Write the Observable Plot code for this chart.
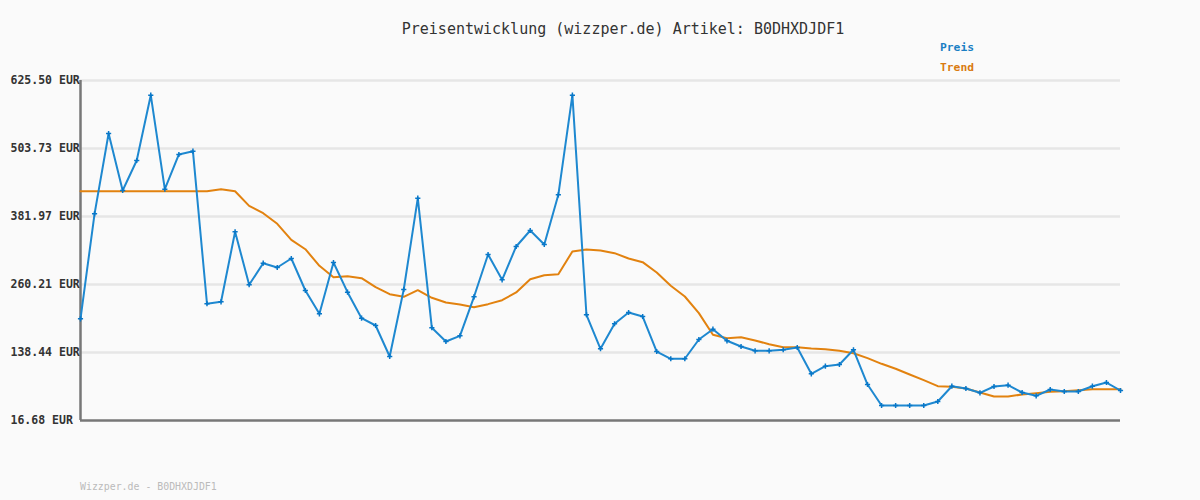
<!DOCTYPE html>
<html>
<head>
<meta charset="utf-8">
<script src="https://cdn.jsdelivr.net/npm/d3@7"></script>
<script src="https://cdn.jsdelivr.net/npm/@observablehq/plot@0.6"></script>
<style>
  html, body { margin: 0; padding: 0; background: #fafafa; }
  #wrap { position: relative; width: 1200px; height: 500px; background: #fafafa; font-family: "DejaVu Sans Mono", monospace; }
  #title { position: absolute; top: 20px; left: 0; width: 1246px; text-align: center; font-size: 15px; color: #333; }
  .leg { position: absolute; left: 940px; font-size: 11.3px; font-weight: bold; }
  #footer { position: absolute; left: 80px; top: 481px; font-size: 9.9px; color: #bbb; }
  #chart { position: absolute; left: 0; top: 0; }
</style>
</head>
<body>
<div id="wrap">
  <div id="chart"></div>
  <div id="title">Preisentwicklung (wizzper.de) Artikel: B0DHXDJDF1</div>
  <div class="leg" style="top:41px;color:#1a7fc4">Preis</div>
  <div class="leg" style="top:61px;color:#d97a10">Trend</div>
  <div id="footer">Wizzper.de - B0DHXDJDF1</div>
</div>
<script>
const preis = [198.8, 386.8, 530.6, 428.5, 482.2, 599.2, 430.9, 493.0, 498.9, 225.7,
  229.2, 354.6, 259.7, 298.4, 290.7, 306.8, 249.5, 207.7, 299.6, 246.5,
  199.9, 186.8, 131.3, 251.3, 414.8, 182.7, 158.2, 168.3, 238.2, 313.9,
  268.6, 328.3, 356.9, 331.8, 420.8, 599.2, 206.0, 145.1, 189.9, 210.1,
  202.9, 140.2, 127.2, 127.2, 161.7, 180.2, 159.4, 149.2, 141.5, 141.5,
  143.3, 147.4, 100.3, 114.0, 117.0, 143.3, 81.1, 43.5, 43.5, 43.5,
  43.5, 50.7, 78.1, 74.0, 66.3, 77.6, 79.9, 66.8, 60.9, 72.2,
  68.6, 68.6, 78.1, 84.7, 70.4];
const trend = [427.3, 427.3, 427.3, 427.3, 427.3, 427.3, 427.3, 427.3, 427.3, 427.3,
  430.9, 427.3, 401.1, 387.9, 368.9, 340.2, 323.4, 293.7, 273.3, 275.1,
  271.5, 255.4, 242.9, 238.2, 250.0, 236.4, 228.0, 224.4, 219.6, 225.0,
  232.1, 245.9, 269.7, 276.9, 278.6, 319.3, 322.9, 321.1, 316.3, 306.8,
  300.2, 281.7, 257.9, 238.7, 208.9, 170.2, 164.1, 165.9, 159.9, 153.3,
  148.0, 148.0, 145.6, 144.4, 141.5, 137.2, 128.3, 118.2, 109.3, 99.1,
  88.9, 78.1, 77.0, 74.0, 66.8, 59.7, 59.7, 63.2, 65.6, 68.0,
  69.2, 70.9, 72.7, 72.7, 72.7];
const yTicks = [16.68, 138.44, 260.21, 381.97, 503.73, 625.50];
const yTickLabels = ["16.68 EUR", "138.44 EUR", "260.21 EUR", "381.97 EUR", "503.73 EUR", "625.50 EUR"];

const pts = preis.map((v, i) => ({i, v}));
const trs = trend.map((v, i) => ({i, v}));
const ticks = yTicks.map((v, k) => ({v, label: yTickLabels[k]}));

const chart = Plot.plot({
  width: 1200,
  height: 500,
  marginLeft: 80,
  marginRight: 80,
  marginTop: 80,
  marginBottom: 80,
  style: {background: "transparent", fontFamily: "DejaVu Sans Mono, monospace"},
  x: {domain: [0, preis.length - 1], axis: null},
  y: {domain: [yTicks[0], yTicks[yTicks.length - 1]], axis: null},
  marks: [
    Plot.ruleY(yTicks.slice(1), {stroke: "#e6e6e6", strokeWidth: 2.5}),
    Plot.ruleX([0], {stroke: "#777", strokeWidth: 2.5}),
    Plot.ruleY([yTicks[0]], {stroke: "#777", strokeWidth: 2.5}),
    Plot.text(ticks, {y: "v", text: "label", frameAnchor: "left", textAnchor: "start", dx: -70,
      fontSize: 11.5, fontWeight: "bold", fill: "#333", fontFamily: "DejaVu Sans Mono, monospace"}),
    Plot.line(trs, {x: "i", y: "v", stroke: "#e2820f", strokeWidth: 2}),
    Plot.line(pts, {x: "i", y: "v", stroke: "#1e88d0", strokeWidth: 2}),
    Plot.dot(pts, {x: "i", y: "v", symbol: "plus", r: 1.8, stroke: "#0877c8", strokeWidth: 1.5})
  ]
});
document.getElementById("chart").appendChild(chart);
</script>
</body>
</html>
